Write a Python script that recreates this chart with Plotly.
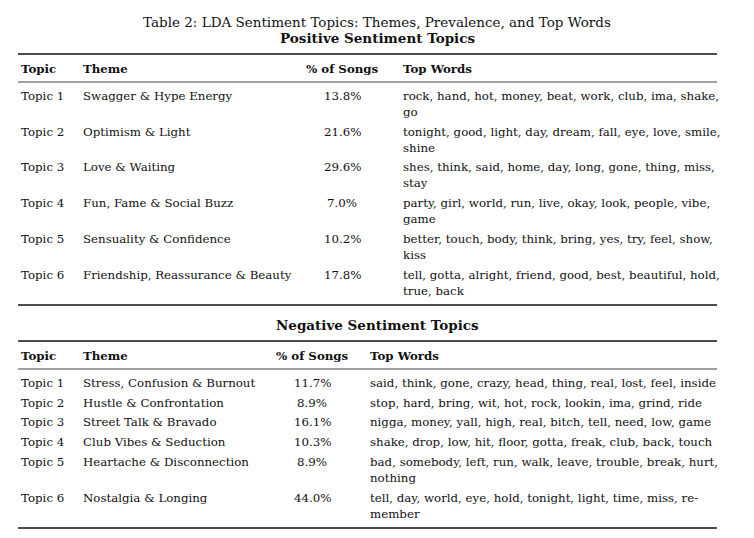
import plotly.graph_objects as go

title = "Table 2: LDA Sentiment Topics: Themes, Prevalence, and Top Words"
headers = ["Topic", "Theme", "% of Songs", "Top Words"]

pos_title = "Positive Sentiment Topics"
pos_topics = ["Topic 1", "Topic 2", "Topic 3", "Topic 4", "Topic 5", "Topic 6"]
pos_themes = ["Swagger & Hype Energy", "Optimism & Light", "Love & Waiting",
              "Fun, Fame & Social Buzz", "Sensuality & Confidence",
              "Friendship, Reassurance & Beauty"]
pos_share = [13.8, 21.6, 29.6, 7.0, 10.2, 17.8]
pos_words = [
    ["rock, hand, hot, money, beat, work, club, ima, shake,", "go"],
    ["tonight, good, light, day, dream, fall, eye, love, smile,", "shine"],
    ["shes, think, said, home, day, long, gone, thing, miss,", "stay"],
    ["party, girl, world, run, live, okay, look, people, vibe,", "game"],
    ["better, touch, body, think, bring, yes, try, feel, show,", "kiss"],
    ["tell, gotta, alright, friend, good, best, beautiful, hold,", "true, back"],
]

neg_title = "Negative Sentiment Topics"
neg_topics = ["Topic 1", "Topic 2", "Topic 3", "Topic 4", "Topic 5", "Topic 6"]
neg_themes = ["Stress, Confusion & Burnout", "Hustle & Confrontation",
              "Street Talk & Bravado", "Club Vibes & Seduction",
              "Heartache & Disconnection", "Nostalgia & Longing"]
neg_share = [11.7, 8.9, 16.1, 10.3, 8.9, 44.0]
neg_words = [
    ["said, think, gone, crazy, head, thing, real, lost, feel, inside"],
    ["stop, hard, bring, wit, hot, rock, lookin, ima, grind, ride"],
    ["nigga, money, yall, high, real, bitch, tell, need, low, game"],
    ["shake, drop, low, hit, floor, gotta, freak, club, back, touch"],
    ["bad, somebody, left, run, walk, leave, trouble, break, hurt,", "nothing"],
    ["tell, day, world, eye, hold, tonight, light, time, miss, re-", "member"],
]

W, H = 754, 538
PAGE_PAD = 8  # body margin of the html page
FONT = "DejaVu Serif"
FS = 11.8
FS_TITLE = 13.5
INK = "#111111"
LEFT, RIGHT = 18, 717
LINE_H = 16
ROW_GAP = 3.7

fig = go.Figure()


def text(x, y, s, anchor="left", bold=False, size=FS):
    fig.add_annotation(
        x=x, y=y, xref="x", yref="y", text=f"<b>{s}</b>" if bold else s,
        showarrow=False, xanchor=anchor, yanchor="middle",
        font=dict(family=FONT, size=size, color=INK),
    )


def rule(y, width):
    fig.add_shape(type="line", x0=LEFT, x1=RIGHT, y0=y, y1=y, xref="x", yref="y",
                  line=dict(color=INK, width=width))


def block(top, subtitle, topics, themes, share, words, pct_x, words_x):
    # subtitle, rules, header, rows
    text(W / 2, top, subtitle, "center", bold=True, size=FS_TITLE)
    rule(top + 16, 1.5)
    hy = top + 31
    text(LEFT + 1, hy, headers[0], bold=True)
    text(81, hy, headers[1], bold=True)
    text(pct_x, hy, headers[2], "center", bold=True)
    text(words_x, hy, headers[3], bold=True)
    rule(hy + 13, 0.8)
    y = hy + 27
    for t, th, p, ws in zip(topics, themes, share, words):
        text(LEFT + 1, y, t)
        text(81, y, th)
        text(pct_x, y, f"{p:.1f}%", "center")
        for i, line in enumerate(ws):
            text(words_x, y + i * LINE_H, line)
        y += len(ws) * LINE_H + ROW_GAP
    last = y - ROW_GAP - LINE_H
    rule(last + 14.5, 1.5)
    return last + 14.5


text(W / 2, 22, title, "center", size=FS_TITLE)
end = block(38, pos_title, pos_topics, pos_themes, pos_share, pos_words, 342, 401)
block(end + 20, neg_title, neg_topics, neg_themes, neg_share, neg_words, 312, 368)

fig.update_layout(
    width=W, height=H,
    margin=dict(l=0, r=0, t=0, b=0),
    paper_bgcolor="white", plot_bgcolor="white",
    xaxis=dict(range=[PAGE_PAD, W + PAGE_PAD], visible=False, fixedrange=True),
    yaxis=dict(range=[H + PAGE_PAD, PAGE_PAD], visible=False, fixedrange=True),
    showlegend=False,
)

fig.write_html("out.html")
